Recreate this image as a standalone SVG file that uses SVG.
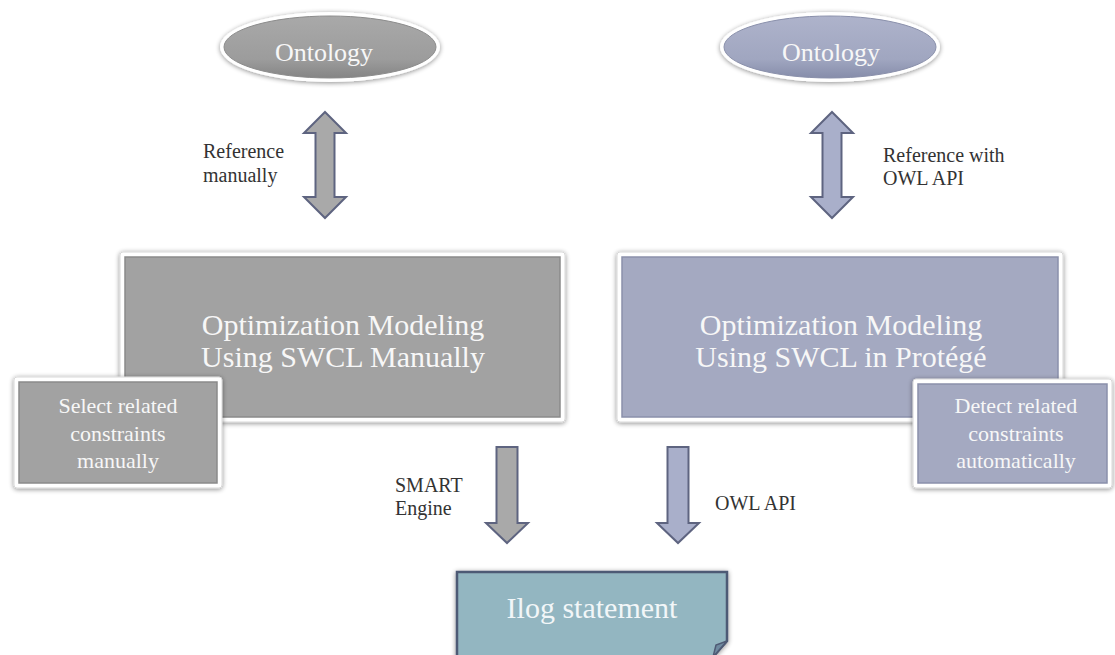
<svg xmlns="http://www.w3.org/2000/svg" width="1115" height="655" viewBox="0 0 1115 655">
<defs>
<filter id="sh" x="-10%" y="-20%" width="120%" height="140%">
<feGaussianBlur in="SourceAlpha" stdDeviation="2.5"/>
<feOffset dx="0" dy="1" result="b"/>
<feComponentTransfer><feFuncA type="linear" slope="0.45"/></feComponentTransfer>
<feMerge><feMergeNode/><feMergeNode in="SourceGraphic"/></feMerge>
</filter>
<linearGradient id="gEl" x1="0" y1="0" x2="0" y2="1">
<stop offset="0" stop-color="#a9a9a9"/><stop offset="0.7" stop-color="#9c9c9c"/><stop offset="1" stop-color="#858585"/>
</linearGradient>
<linearGradient id="bEl" x1="0" y1="0" x2="0" y2="1">
<stop offset="0" stop-color="#aeb3cb"/><stop offset="0.7" stop-color="#a0a6c0"/><stop offset="1" stop-color="#868daa"/>
</linearGradient>
<style>
.t{font-family:"Liberation Serif","Times New Roman",serif;fill:#f7f7f7;text-anchor:middle}
.lbl{font-family:"Liberation Serif","Times New Roman",serif;fill:#333;font-size:20px}
.gbox{fill:#a2a2a2;stroke:#8a8a8a;stroke-width:1.5}
.bbox{fill:#a4a9c1;stroke:#8a90ab;stroke-width:1.5}
.frame{fill:#ffffff;stroke:#d8d8d8;stroke-width:1}
.ga{fill:#a9a9a9;stroke:#5e6480;stroke-width:2;stroke-linejoin:miter}
.ba{fill:#a9afca;stroke:#5e6480;stroke-width:2;stroke-linejoin:miter}
</style>
</defs>

<g id="ontology-left">
<ellipse cx="330" cy="47" rx="110" ry="35" fill="#ffffff" filter="url(#sh)"/>
<ellipse cx="330" cy="47" rx="106" ry="31" fill="url(#gEl)" stroke="#8c8c8c" stroke-width="1"/>
<text class="t" x="324" y="61" font-size="26">Ontology</text>
</g>

<g id="ontology-right">
<ellipse cx="830" cy="47" rx="110" ry="35" fill="#ffffff" filter="url(#sh)"/>
<ellipse cx="830" cy="47" rx="106" ry="31" fill="url(#bEl)" stroke="#8a90ab" stroke-width="1"/>
<text class="t" x="831" y="61" font-size="26">Ontology</text>
</g>

<g id="box-left">
<rect class="frame" x="120" y="252" width="445" height="170" rx="3" filter="url(#sh)"/>
<rect class="gbox" x="125" y="257" width="435" height="160"/>
<text class="t" x="343" y="335" font-size="30">Optimization Modeling</text>
<text class="t" x="343" y="367" font-size="30">Using SWCL Manually</text>
</g>

<g id="box-right">
<rect class="frame" x="617" y="252" width="446" height="170" rx="3" filter="url(#sh)"/>
<rect class="bbox" x="622" y="257" width="436" height="160"/>
<text class="t" x="841" y="335" font-size="30">Optimization Modeling</text>
<text class="t" x="841" y="367" font-size="30">Using SWCL in Protégé</text>
</g>

<g id="select-box">
<rect class="frame" x="14" y="377" width="208" height="111" rx="3" filter="url(#sh)"/>
<rect class="gbox" x="19" y="382" width="198" height="101"/>
<text class="t" x="118" y="413" font-size="22">Select related</text>
<text class="t" x="118" y="441" font-size="22">constraints</text>
<text class="t" x="118" y="468" font-size="22">manually</text>
</g>

<g id="detect-box">
<rect class="frame" x="913" y="379" width="199" height="109" rx="3" filter="url(#sh)"/>
<rect class="bbox" x="918" y="384" width="189" height="99"/>
<text class="t" x="1016" y="413" font-size="22">Detect related</text>
<text class="t" x="1016" y="441" font-size="22">constraints</text>
<text class="t" x="1016" y="468" font-size="22">automatically</text>
</g>

<g id="ilog">
<path d="M457,572 H727 V641 L713,657 H457 Z" fill="#93b6c1" stroke="#4e5a74" stroke-width="2.5" filter="url(#sh)"/>
<path d="M727,641 L713,657 L716,645 Z" fill="#6f8aa0" stroke="#4e5a74" stroke-width="1.5"/>
<text class="t" x="592" y="618" font-size="30" style="fill:#f2f6f8">Ilog statement</text>
</g>

<g id="connectors">
<polygon class="ga" points="325,112 346,133 334.5,133 334.5,197 346,197 325,218 304,197 315.5,197 315.5,133 304,133"/>
<polygon class="ba" points="832,112 853,133 841.5,133 841.5,197 853,197 832,218 811,197 822.5,197 822.5,133 811,133"/>
<polygon class="ga" points="496.5,447 517.5,447 517.5,523 528,523 507,543 486,523 496.5,523"/>
<polygon class="ba" points="667.5,447 688.5,447 688.5,523 699,523 678,543 657,523 667.5,523"/>
<text class="lbl" x="203" y="158">Reference</text>
<text class="lbl" x="203" y="182">manually</text>
<text class="lbl" x="883" y="162">Reference with</text>
<text class="lbl" x="883" y="185">OWL API</text>
<text class="lbl" x="395" y="492">SMART</text>
<text class="lbl" x="395" y="515">Engine</text>
<text class="lbl" x="715" y="510">OWL API</text>
</g>
</svg>
